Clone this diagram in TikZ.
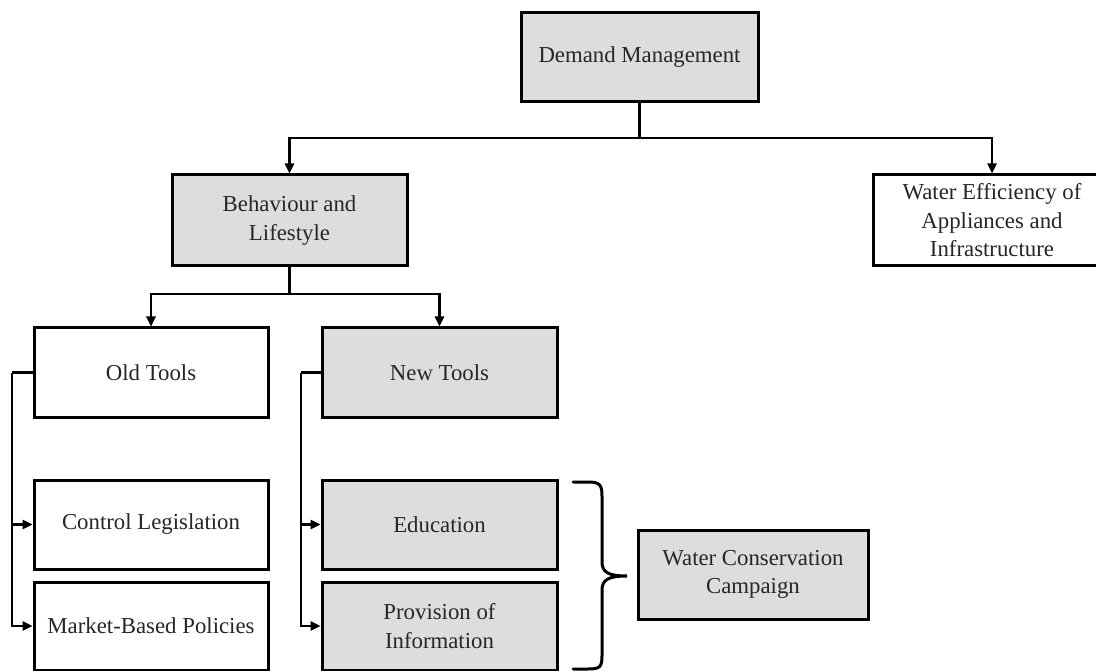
\documentclass[tikz,border=0pt]{standalone}
\usepackage{fontspec}
\setmainfont{Liberation Serif}
\usetikzlibrary{arrows.meta}
\definecolor{boxgray}{RGB}{221,221,221}
\tikzset{
  box/.style={draw=black, line width=3pt, rectangle, inner sep=0pt, align=center,
    font=\fontsize{22.8}{28.5}\selectfont, text=black!85},
  graybox/.style={box, fill=boxgray},
  whitebox/.style={box, fill=white},
  conn/.style={line width=2.4pt, draw=black},
  arr/.style={conn, -{Triangle[length=10pt,width=9pt]}},
}
\begin{document}
\begin{tikzpicture}[x=1pt,y=-1pt]
\useasboundingbox (0,0) rectangle (1096,671);
\node[graybox, minimum width=237pt, minimum height=89pt] (dm) at (639.5,57.5) {Demand Management};
\node[graybox, minimum width=235pt, minimum height=91pt] (beh) at (289.5,220.5) {Behaviour and\\Lifestyle};
\node[whitebox, minimum width=238pt, minimum height=91pt] (we) at (992,220.5) {Water Efficiency of\\Appliances and\\Infrastructure};
\node[whitebox, minimum width=234pt, minimum height=89pt] (old) at (151,372.5) {Old Tools};
\node[graybox, minimum width=235pt, minimum height=89pt] (new) at (439.5,372.5) {New Tools};
\node[whitebox, minimum width=234pt, minimum height=89pt] (cl) at (151,524.5) {Control Legislation};
\node[whitebox, minimum width=234pt, minimum height=88pt] (mb) at (151,626) {Market-Based Policies};
\node[graybox, minimum width=235pt, minimum height=89pt] (edu) at (439.5,524.5) {Education};
\node[graybox, minimum width=235pt, minimum height=88pt] (prov) at (439.5,626) {Provision of\\Information};
\node[graybox, minimum width=230pt, minimum height=89pt] (wcc) at (753,574.5) {Water Conservation\\Campaign};

\coordinate (j1) at (639.5,138);
\coordinate (j2) at (289.5,294);
\coordinate (b1) at (12,372.5);
\coordinate (b2) at (301,372.5);

\draw[conn] (dm.south) -- (j1);
\draw[arr] (j1) -| (beh.north);
\draw[arr] (j1) -| (we.north);
\draw[conn] (beh.south) -- (j2);
\draw[arr] (j2) -| (old.north);
\draw[arr] (j2) -| (new.north);
\draw[conn] (old.west) -- (b1);
\draw[arr] (b1) |- (cl.west);
\draw[arr] (b1) |- (mb.west);
\draw[conn] (new.west) -- (b2);
\draw[arr] (b2) |- (edu.west);
\draw[arr] (b2) |- (prov.west);

% brace
\coordinate (br) at (627,576);
\draw[line width=3pt, line cap=round] (573,482) -- (588,482)
  .. controls (600,482) and (602,485) .. (602,496) -- (602,562)
  .. controls (602,572) and (608,576) .. (br)
  .. controls (608,576) and (602,580) .. (602,590) -- (602,656)
  .. controls (602,667) and (600,669) .. (588,669) -- (573,669);
\end{tikzpicture}
\end{document}
